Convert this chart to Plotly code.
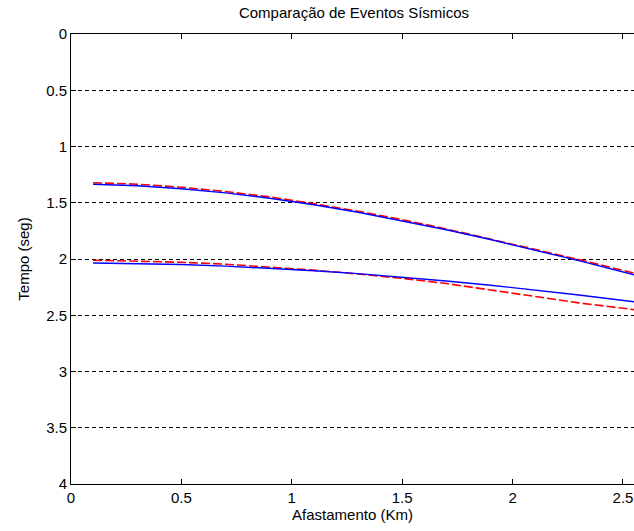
import plotly.graph_objects as go

# Offsets (Km)
offset = [0.1, 0.3, 0.5, 0.7, 0.9, 1.1, 1.3, 1.5, 1.7, 1.9, 2.1, 2.3, 2.55]

# Event 1 (upper)
ev1_red = [1.322, 1.335, 1.362, 1.400, 1.448, 1.508, 1.575, 1.650, 1.733, 1.822, 1.912, 2.005, 2.125]
ev1_blue = [1.336, 1.349, 1.375, 1.412, 1.460, 1.518, 1.584, 1.659, 1.740, 1.827, 1.919, 2.015, 2.140]

# Event 2 (lower)
ev2_red = [2.011, 2.017, 2.029, 2.046, 2.070, 2.099, 2.133, 2.172, 2.218, 2.275, 2.335, 2.390, 2.450]
ev2_blue = [2.036, 2.040, 2.049, 2.063, 2.081, 2.104, 2.130, 2.161, 2.195, 2.233, 2.275, 2.320, 2.380]

x_ticks = [0, 0.5, 1, 1.5, 2, 2.5]
x_ticklabels = ["0", "0.5", "1", "1.5", "2", "2.5"]
y_ticks = [0, 0.5, 1, 1.5, 2, 2.5, 3, 3.5, 4]
y_ticklabels = ["0", "0.5", "1", "1.5", "2", "2.5", "3", "3.5", "4"]

FONT = "Liberation Sans, Arial, sans-serif"
FS = 15

fig = go.Figure()
for red in (ev1_red, ev2_red):
    fig.add_trace(go.Scatter(x=offset, y=red, mode="lines",
                             line=dict(color="#ff0000", width=1.6, dash="9px,3px"),
                             showlegend=False))
for blue in (ev1_blue, ev2_blue):
    fig.add_trace(go.Scatter(x=offset, y=blue, mode="lines",
                             line=dict(color="#0000ff", width=1.4),
                             showlegend=False))

fig.update_layout(
    width=634, height=531,
    margin=dict(l=71, r=0, t=34, b=47),
    paper_bgcolor="white", plot_bgcolor="white",
    font=dict(family=FONT, size=FS, color="black"),
    title=dict(text="Comparação de Eventos Sísmicos", x=354 / 634, xanchor="center",
               y=1 - 13 / 531, yanchor="middle", font=dict(family=FONT, size=FS, color="black")),
)
fig.update_xaxes(
    range=[0, 2.55], tickvals=x_ticks, ticktext=x_ticklabels,
    ticks="inside", ticklen=5, tickcolor="black", tickwidth=1,
    showline=True, linecolor="black", linewidth=1, mirror="ticks",
    showgrid=False, zeroline=False,
    title=dict(text="Afastamento (Km)", standoff=3, font=dict(family=FONT, size=FS)),
    tickfont=dict(family=FONT, size=FS),
)
fig.update_yaxes(
    range=[4, 0], tickvals=y_ticks, ticktext=y_ticklabels,
    ticks="inside", ticklen=5, tickcolor="black", tickwidth=1,
    showline=True, linecolor="black", linewidth=1,
    showgrid=True, gridcolor="black", gridwidth=1, griddash="4px,3px",
    zeroline=False,
    title=dict(text="Tempo (seg)", standoff=12, font=dict(family=FONT, size=FS)),
    tickfont=dict(family=FONT, size=FS),
)

fig.write_html("out.html")
